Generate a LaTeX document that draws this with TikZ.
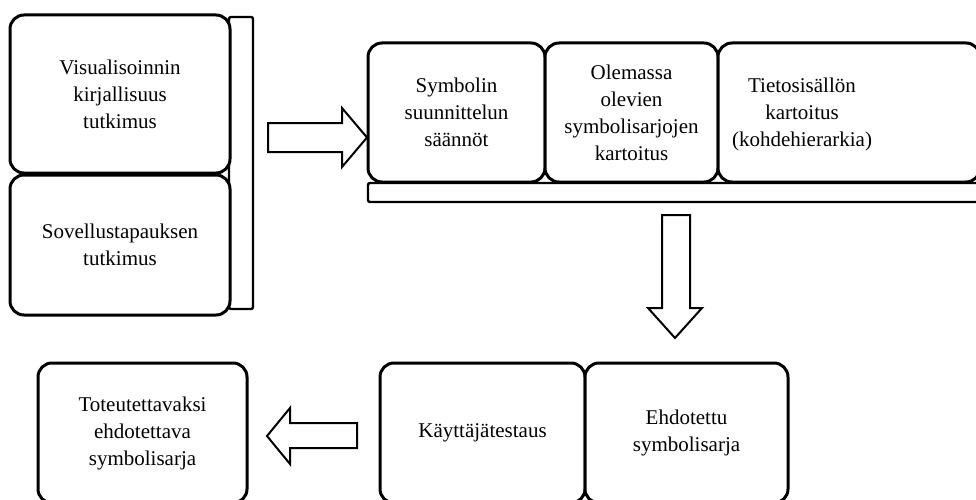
\documentclass[tikz,border=0pt]{standalone}
\usepackage{fontspec}
\setmainfont{Liberation Serif}
\begin{document}
\begin{tikzpicture}[x=1pt,y=-1pt,
  box/.style={draw=black,line width=3pt,rounded corners=14pt,fill=white,inner sep=0pt,
    align=center,font=\fontsize{21}{27}\selectfont},
  barbox/.style={draw=black,line width=2.4pt,rounded corners=2pt,fill=white},
  blockarrow/.style={draw=black,line width=2pt,fill=white,line join=miter},
  lbl/.style={align=center,font=\fontsize{21}{27}\selectfont,inner sep=0pt}]
\useasboundingbox (0,0) rectangle (976,500);
% left column
\draw[barbox] (229,17) rectangle (253,309);
\node[box,minimum width=220pt,minimum height=158pt] (vis) at (120,94) {Visualisoinnin\\kirjallisuus\\tutkimus};
\node[box,minimum width=220pt,minimum height=140pt] (sov) at (120,245) {Sovellustapauksen\\tutkimus};
% top row
\draw[barbox] (368,183) rectangle (985,202);
\node[box,minimum width=177pt,minimum height=139pt] (sym) at (456.5,112.5) {Symbolin\\suunnittelun\\säännöt};
\node[box,minimum width=173pt,minimum height=139pt] (ole) at (631.5,112.5) {Olemassa\\olevien\\symbolisarjojen\\kartoitus};
\node[box,minimum width=262pt,minimum height=139pt] (tie) at (849,112.5) {};
\node[lbl] (tietxt) at (802,114) {Tietosisällön\\kartoitus\\(kohdehierarkia)};
% bottom row
\node[box,minimum width=209pt,minimum height=140pt] (tot) at (142.5,433) {Toteutettavaksi\\ehdotettava\\symbolisarja};
\node[box,minimum width=205pt,minimum height=140pt] (kay) at (482.5,433) {Käyttäjätestaus};
\node[box,minimum width=203pt,minimum height=140pt] (ehd) at (686.5,433) {Ehdotettu\\symbolisarja};
% block arrows
\draw[blockarrow] (268,123) -- (342,123) -- (342,108) -- (367,137.5) -- (342,167) -- (342,152) -- (268,152) -- cycle;
\draw[blockarrow] (662,215) -- (690,215) -- (690,308) -- (702,308) -- (675,338) -- (648,308) -- (662,308) -- cycle;
\draw[blockarrow] (357,423) -- (290,423) -- (290,408) -- (267,436) -- (290,464) -- (290,448) -- (357,448) -- cycle;
\end{tikzpicture}
\end{document}
